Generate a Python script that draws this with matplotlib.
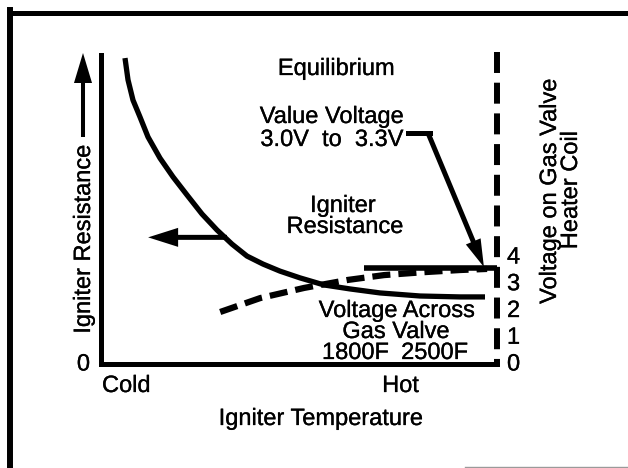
import matplotlib.pyplot as plt
import matplotlib.patheffects as pe
from matplotlib.lines import Line2D

plt.rcParams['font.family'] = ['Liberation Sans', 'DejaVu Sans']
plt.rcParams['lines.scale_dashes'] = False

# igniter resistance against igniter temperature (relative units, 0 = cold)
temp_res = [6.06, 6.82, 8.08, 9.85, 11.87, 14.90, 18.18, 21.72, 25.51, 29.29, 33.08,
            36.87, 40.91, 45.20, 50.25, 56.31, 62.88, 70.45, 80.56, 90.66, 96.97]
resistance = [99.0, 91.9, 85.3, 79.8, 73.3, 66.4, 60.3, 54.4, 48.2, 43.0, 38.4,
              34.5, 31.9, 29.6, 27.4, 25.1, 23.8, 22.5, 21.5, 21.2, 21.2]

# voltage across the gas valve
temp_volt = [30.1, 40.2, 51.3, 62.4, 71.5, 81.6, 90.7, 97.5]
valve_volts = [1.87, 2.39, 2.77, 3.07, 3.25, 3.36, 3.44, 3.48]

# equilibrium valve voltage
eq_temp = [66.4, 100]
eq_volts = [3.51, 3.51]

volt_ticks = [0, 1, 2, 3, 4]
res_ticks = [0]

W, H = 628, 468
FS = 17
# slightly heavier glyphs, like the printed original
heavy = [pe.withStroke(linewidth=0.2, foreground='black')]


def fp(x, y):
    # pixel position (from top-left) -> figure fraction
    return x / W, 1 - y / H


fig = plt.figure(figsize=(W / 100, H / 100), dpi=100)
ax = fig.add_axes([101 / W, (H - 364) / H, 396 / W, 309 / H])
ax.set_xlim(0, 100)
ax.set_ylim(-0.65, 100)
for side in ('top', 'right'):
    ax.spines[side].set_visible(False)
for side in ('left', 'bottom'):
    ax.spines[side].set_linewidth(3.6)
    ax.spines[side].set_capstyle('projecting')
ax.set_xticks([])
ax.set_yticks(res_ticks)
ax.set_yticklabels([str(t) for t in res_ticks])
ax.tick_params(axis='y', length=0, pad=7.9, labelsize=FS)

ax2 = ax.twinx()
ax2.set_ylim(-0.075, 11.48)
for s in ax2.spines.values():
    s.set_visible(False)
ax2.set_yticks(volt_ticks)
ax2.set_yticklabels([str(t) for t in volt_ticks])
ax2.tick_params(axis='y', length=0, pad=7.2, labelsize=FS)
for lab in ax.get_yticklabels() + ax2.get_yticklabels():
    lab.set_path_effects(heavy)

# dashed right-hand axis (valve voltage)
ax.plot([1, 1], [1 + 3 / 309, 0], transform=ax.transAxes, clip_on=False,
        color='black', lw=4.3, dashes=(15.1, 7.0))

ax.plot(temp_res, resistance, color='black', lw=3.8, solid_joinstyle='round',
        solid_capstyle='butt')
ax2.plot(temp_volt, valve_volts, color='black', lw=4.5, dashes=(13, 5.8))
ax2.plot(eq_temp, eq_volts, color='black', lw=4, solid_capstyle='butt')

# arrow pointing the resistance curve to the left axis
ax.annotate('', xy=(11.9, 40.6), xytext=(31.8, 40.6),
            arrowprops=dict(width=3.6, headwidth=13.7, headlength=21.6,
                            shrink=0, fc='black', ec='black', lw=0))

# callout for the valve voltage
fig.add_artist(Line2D([408 / W, 430 / W], [1 - 133 / H] * 2,
                      transform=fig.transFigure, color='black', lw=3.6))
ax2.annotate('', xy=(96.7, 3.55), xycoords='data',
             xytext=(428, H - 133), textcoords='figure pixels',
             arrowprops=dict(width=3.6, headwidth=11.5, headlength=20,
                             shrink=0, fc='black', ec='black', lw=0))

# arrow next to the left axis label
ax.annotate('', xy=(83, H - 53), xycoords='figure pixels',
            xytext=(83, H - 137), textcoords='figure pixels',
            arrowprops=dict(width=2.9, headwidth=13, headlength=21.6,
                            shrink=0, fc='black', ec='black', lw=0))

txt = dict(fontsize=FS, va='baseline', ha='center', path_effects=heavy)
fig.text(*fp(336.5, 75), 'Equilibrium', **txt)
fig.text(*fp(332, 123), 'Value Voltage', **txt)
fig.text(*fp(332, 146), '3.0V  to  3.3V', **txt)
fig.text(*fp(343, 212), 'Igniter', **txt)
fig.text(*fp(345, 233), 'Resistance', **txt)
fig.text(*fp(397, 317), 'Voltage Across', **txt)
fig.text(*fp(396, 338), 'Gas Valve', **txt)
fig.text(*fp(322, 359), '1800F', fontsize=FS, va='baseline', ha='left', path_effects=heavy)
fig.text(*fp(468, 359), '2500F', fontsize=FS, va='baseline', ha='right', path_effects=heavy)
fig.text(*fp(102, 392), 'Cold', fontsize=FS, va='baseline', ha='left', path_effects=heavy)
fig.text(*fp(400.5, 392), 'Hot', **txt)
fig.text(*fp(321, 425), 'Igniter Temperature', **txt)

rot = dict(txt, rotation=90, rotation_mode='anchor')
fig.text(*fp(90, 239), 'Igniter Resistance', **rot)
fig.text(*fp(556, 191), 'Voltage on Gas Valve', **rot)
fig.text(*fp(577, 190), 'Heater Coil', **rot)

# page border
fig.add_artist(Line2D([10 / W, 10 / W], [0, 1 - 10 / H], transform=fig.transFigure,
                      color='black', lw=4.3, solid_capstyle='projecting'))
fig.add_artist(Line2D([10 / W, 1], [1 - 12.5 / H] * 2, transform=fig.transFigure,
                      color='black', lw=3.6, solid_capstyle='projecting'))
fig.add_artist(Line2D([465 / W, 1], [1 - 467 / H] * 2, transform=fig.transFigure,
                      color='#9a9a9a', lw=1))

fig.savefig('out.png', dpi=100)
